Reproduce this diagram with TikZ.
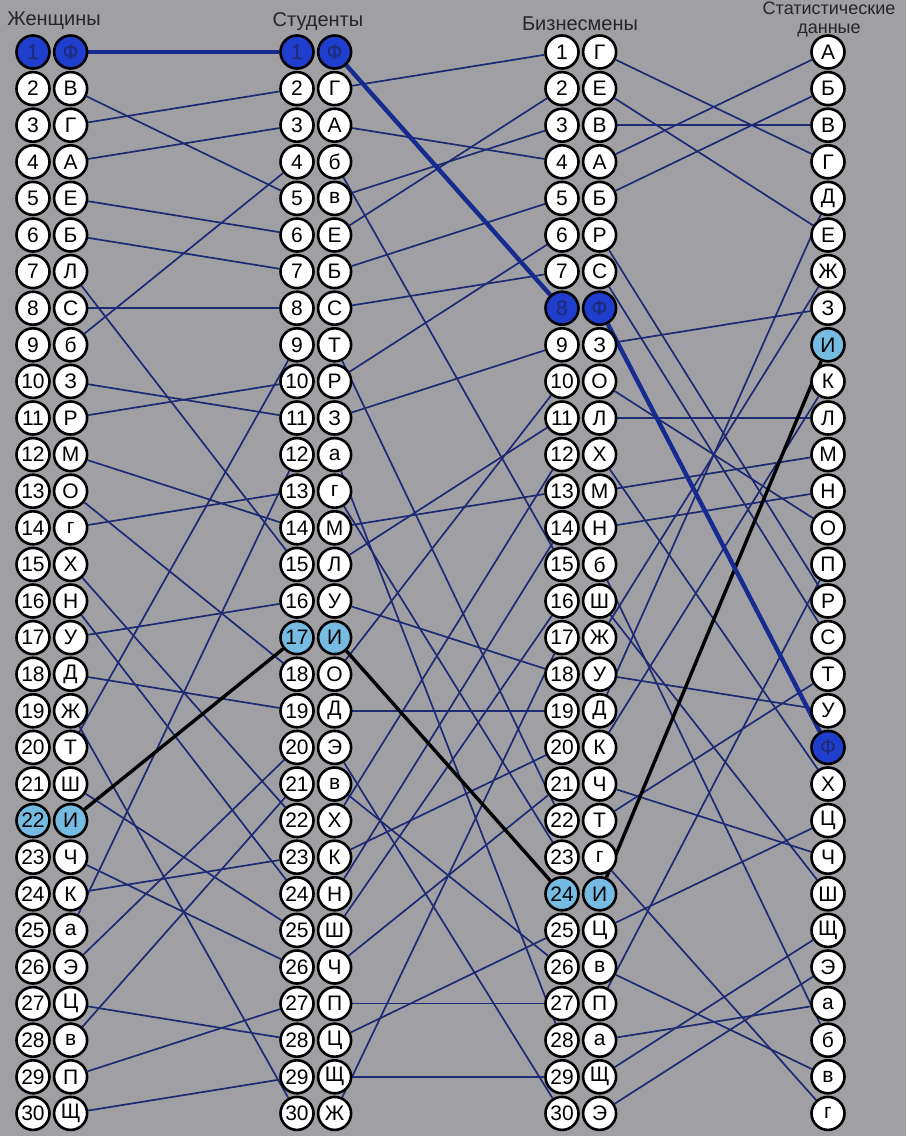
\documentclass[tikz,border=0pt]{standalone}
\usepackage{fontspec}
\setmainfont{Liberation Sans}
\usetikzlibrary{positioning}
\pgfdeclarelayer{paper}
\pgfdeclarelayer{wires}
\pgfsetlayers{paper,wires,main}
\definecolor{bggray}{RGB}{160,160,164}
\definecolor{wire}{RGB}{30,42,115}
\definecolor{fblue}{RGB}{32,62,205}
\definecolor{iblue}{RGB}{118,188,226}
\begin{document}
\begin{tikzpicture}[x=0.5pt, y=-0.5pt,
disc/.style={circle,draw,line width=1.3pt,fill=white,minimum size=16.5pt,inner sep=0pt,font=\fontsize{10.5}{12}\selectfont},
tint/.code={\ifnum#1=20 \tikzset{fill=fblue,text=wire}\fi\ifnum#1=9 \tikzset{fill=iblue}\fi},
link/.code={\ifnum#1=20 \tikzset{draw=fblue!70!black,line width=2.2pt}\else\ifnum#1=9 \tikzset{draw=black,line width=1.7pt}\else\tikzset{draw=wire,line width=0.85pt}\fi\fi},
head/.style={font=\fontsize{10}{10.5}\selectfont,text=black!85,inner sep=0pt}]
\useasboundingbox (0,0) rectangle (906,1136);
\begin{pgfonlayer}{paper}
\fill[bggray] (0,0) rectangle (906,1136);
\end{pgfonlayer}
% headings
\node[head,anchor=base] (women) at (54,25) {Женщины};
\node[head,anchor=base] (students) at (318,26) {Студенты};
\node[head,anchor=base] (business) at (580,30) {Бизнесмены};
\node[head,anchor=south,align=center,font=\fontsize{9}{9.5}\selectfont] (stats) at (829,37) {Статистические\\данные};
% women
\foreach \t/\k [count=\r] in {Ф/20,В/3,Г/4,А/1,Е/6,Б/2,Л/11,С/17,б/28,З/8,Р/16,М/12,О/14,г/30,Х/21,Н/13,У/19,Д/5,Ж/7,Т/18,Ш/24,И/9,Ч/23,К/10,а/27,Э/26,Ц/22,в/29,П/15,Щ/25} {
  \node[disc,tint=\k] (num1-\k) at (33,{52+(\r-1)*36.6}) {\r};
  \node[disc,tint=\k,right=1pt of num1-\k] (let1-\k) {\t};
}
% students
\foreach \t/\k [count=\r] in {Ф/20,Г/4,А/1,б/28,в/3,Е/6,Б/2,С/17,Т/18,Р/16,З/8,а/27,г/30,М/12,Л/11,У/19,И/9,О/14,Д/5,Э/26,в/29,Х/21,К/10,Н/13,Ш/24,Ч/23,П/15,Ц/22,Щ/25,Ж/7} {
  \node[disc,tint=\k] (num2-\k) at (297,{52+(\r-1)*36.6}) {\r};
  \node[disc,tint=\k,right=1pt of num2-\k] (let2-\k) {\t};
}
% businessmen
\foreach \t/\k [count=\r] in {Г/4,Е/6,В/3,А/1,Б/2,Р/16,С/17,Ф/20,З/8,О/14,Л/11,Х/21,М/12,Н/13,б/28,Ш/24,Ж/7,У/19,Д/5,К/10,Ч/23,Т/18,г/30,И/9,Ц/22,в/29,П/15,а/27,Щ/25,Э/26} {
  \node[disc,tint=\k] (num3-\k) at (562,{52+(\r-1)*36.6}) {\r};
  \node[disc,tint=\k,right=1pt of num3-\k] (let3-\k) {\t};
}
% statistics
\foreach \t [count=\k] in {А,Б,В,Г,Д,Е,Ж,З,И,К,Л,М,Н,О,П,Р,С,Т,У,Ф,Х,Ц,Ч,Ш,Щ,Э,а,б,в,г} {
  \node[disc,tint=\k] (let4-\k) at (828,{52+(\k-1)*36.6}) {\t};
}
% links between same letters
\begin{pgfonlayer}{wires}
\foreach \k in {1,...,8,10,11,...,19,21,22,...,30,9,20} {
  \draw[link=\k] (let1-\k) -- (num2-\k);
  \draw[link=\k] (let2-\k) -- (num3-\k);
  \draw[link=\k] (let3-\k) -- (let4-\k);
}
\end{pgfonlayer}
\end{tikzpicture}
\end{document}
